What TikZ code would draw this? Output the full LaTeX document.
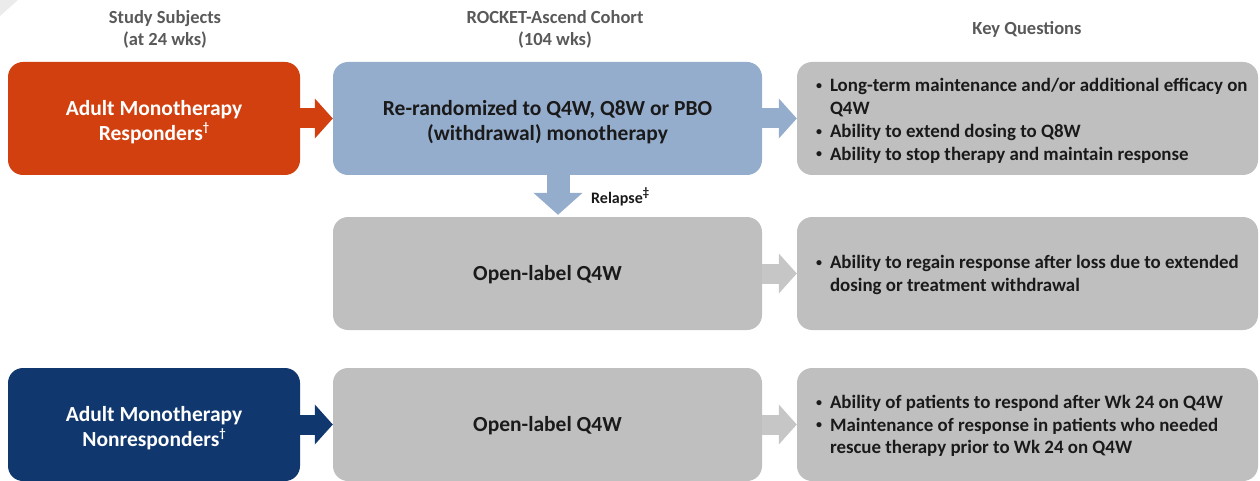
\documentclass[tikz,border=0pt]{standalone}
\usepackage{fontspec}
\setmainfont{Carlito}
\usetikzlibrary{arrows.meta}
\definecolor{cOrange}{RGB}{209,64,14}
\definecolor{cBlue}{RGB}{149,173,204}
\definecolor{cNavy}{RGB}{16,55,110}
\definecolor{cGray}{RGB}{191,191,191}
\definecolor{cGrayArrow}{RGB}{198,198,198}
\definecolor{cHead}{RGB}{89,89,89}
\definecolor{cText}{RGB}{26,26,26}
\newcommand{\supmark}[1]{\raisebox{0.42em}{\fontsize{12.5}{12.5}\selectfont #1}}
\newcommand{\bul}{\makebox[14pt][l]{\raisebox{0.12em}{\fontsize{12}{12}\selectfont •}}}
\begin{document}
\begin{tikzpicture}[x=1pt,y=-1pt,
  box/.style={rounded corners=15pt, minimum width=292pt, minimum height=113pt, inner sep=0pt},
  midbox/.style={box, minimum width=429pt},
  boxtext/.style={inner sep=0pt, align=center, font=\bfseries\fontsize{21.5}{25}\selectfont},
  kqbox/.style={rounded corners=15pt, minimum width=461pt, minimum height=113pt, inner sep=0pt, fill=cGray},
  kqtext/.style={anchor=west, inner sep=0pt, align=left, text=cText, font=\bfseries\fontsize{18.9}{22.7}\selectfont},
  head/.style={align=center, text=cHead, font=\bfseries\fontsize{18.5}{22}\selectfont},
  harrow/.style={line width=20pt, -{Triangle[width=39pt,length=18pt]}},
]
\useasboundingbox (0,0) rectangle (1260,481);
\fill[black!8] (0,0) -- (18,0) -- (0,16) -- cycle;

% headers
\node[head] (h1) at (165,29) {Study Subjects\\(at 24 wks)};
\node[head] (h2) at (555,29) {ROCKET-Ascend Cohort\\(104 wks)};
\node[head] (h3) at (1027,29) {Key Questions};

% row 1
\node[box, fill=cOrange] (resp) at (154,118.5) {};
\node[boxtext, text=white] (respt) at ([yshift=-4pt]resp.center) {Adult Monotherapy\\Responders\supmark{†}};
\node[midbox, fill=cBlue] (rerand) at (547.5,118.5) {};
\node[boxtext, text=cText] (rerandt) at ([yshift=-4pt]rerand.center) {Re-randomized to Q4W, Q8W or PBO\\(withdrawal) monotherapy};
\node[kqbox] (kq1) at (1027.5,118.5) {};
\node[kqtext] (kq1t) at ([xshift=19pt,yshift=-3pt]kq1.west) {%
\begin{tabular}{@{}l@{}l@{}}
\bul& Long-term maintenance and/or additional efficacy on\\
 & Q4W\\
\bul& Ability to extend dosing to Q8W\\
\bul& Ability to stop therapy and maintain response
\end{tabular}};

% row 2
\node[midbox, fill=cGray] (open1) at (547.5,273.5) {};
\node[boxtext, text=cText] (open1t) at ([yshift=-1pt]open1.center) {Open-label Q4W};
\node[kqbox] (kq2) at (1027.5,273.5) {};
\node[kqtext] (kq2t) at ([xshift=19pt,yshift=-2pt]kq2.west) {%
\begin{tabular}{@{}l@{}l@{}}
\bul& Ability to regain response after loss due to extended\\
 & dosing or treatment withdrawal
\end{tabular}};

% row 3
\node[box, fill=cNavy] (nonresp) at (154,424.5) {};
\node[boxtext, text=white] (nonrespt) at ([yshift=-4pt]nonresp.center) {Adult Monotherapy\\Nonresponders\supmark{†}};
\node[midbox, fill=cGray] (open2) at (547.5,424.5) {};
\node[boxtext, text=cText] (open2t) at ([yshift=-1pt]open2.center) {Open-label Q4W};
\node[kqbox] (kq3) at (1027.5,424.5) {};
\node[kqtext] (kq3t) at ([xshift=19pt,yshift=-2pt]kq3.west) {%
\begin{tabular}{@{}l@{}l@{}}
\bul& Ability of patients to respond after Wk 24 on Q4W\\
\bul& Maintenance of response in patients who needed\\
 & rescue therapy prior to Wk 24 on Q4W
\end{tabular}};

% arrows
\draw[harrow, cOrange] (resp.east) -- (rerand.west);
\draw[harrow, cBlue] (rerand.east) -- (kq1.west);
\draw[harrow, cGrayArrow] (open1.east) -- (kq2.west);
\draw[harrow, cNavy] (nonresp.east) -- (open2.west);
\draw[harrow, cGrayArrow] (open2.east) -- (kq3.west);

\coordinate (downx) at (558,0);
\draw[line width=23pt, cBlue, -{Triangle[width=48pt,length=22pt]}] (rerand.south -| downx) -- ([yshift=2pt]open1.north -| downx);
\node[anchor=west, inner sep=0pt, text=cText, font=\bfseries\fontsize{16}{18}\selectfont] (relapse) at (591,197) {Relapse\supmark{‡}};
\end{tikzpicture}
\end{document}
